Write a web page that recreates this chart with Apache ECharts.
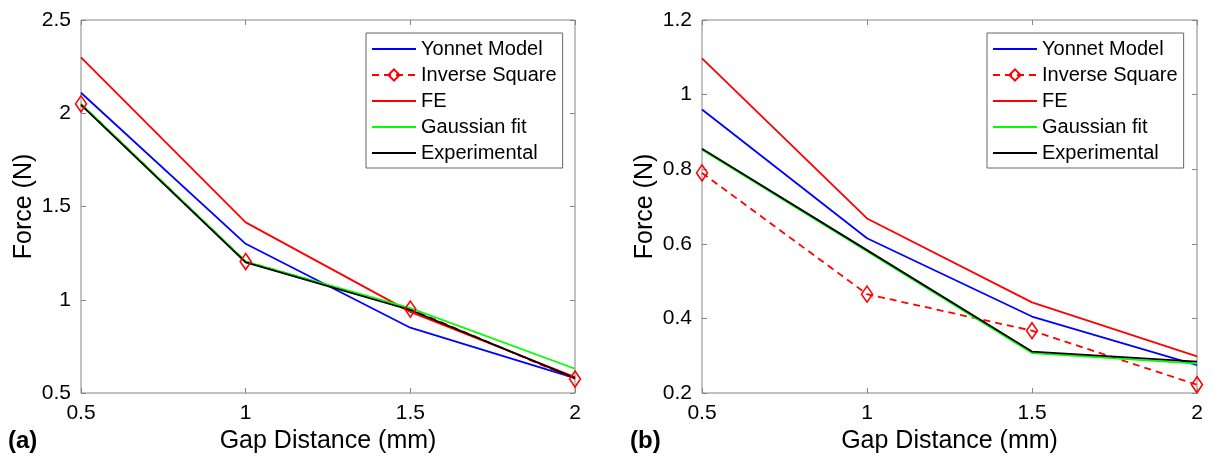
<!DOCTYPE html>
<html>
<head>
<meta charset="utf-8">
<script src="https://cdn.jsdelivr.net/npm/echarts@6/dist/echarts.min.js"></script>
<style>
	html, body { margin: 0; padding: 0; background: #fff; }
	#chart { width: 1214px; height: 465px; }
</style>
</head>
<body>
<div id="chart"></div>
<script>
	// gap distance (mm)
	var gap = [0.5, 1, 1.5, 2];
	var seriesNames = ['Yonnet Model', 'Inverse Square', 'FE', 'Gaussian fit', 'Experimental'];

	// (a)
	var yonnetA = [2.11, 1.30, 0.85, 0.58];
	var inverseA = [2.05, 1.205, 0.95, 0.575];
	var feA = [2.30, 1.415, 0.935, 0.585];
	var gaussA = [2.05, 1.205, 0.955, 0.63];
	var expA = [2.045, 1.20, 0.945, 0.58];

	// (b)
	var yonnetB = [0.96, 0.615, 0.405, 0.275];
	var inverseB = [0.79, 0.465, 0.367, 0.222];
	var feB = [1.097, 0.668, 0.443, 0.298];
	var gaussB = [0.852, 0.58, 0.307, 0.279];
	var expB = [0.855, 0.583, 0.311, 0.284];

	var colors = ['#0000ff', '#ff0000', '#ff0000', '#00ff00', '#000000'];
	var font = 'Liberation Sans';
	var frame = '#858585';

	function pairs(ys) {
		return gap.map(function (x, i) { return [x, ys[i]]; });
	}

	function makeSeries(axis, sets) {
		return sets.map(function (ys, k) {
			var s = {
				name: seriesNames[k],
				type: 'line',
				xAxisIndex: axis,
				yAxisIndex: axis,
				data: pairs(ys),
				symbol: 'none',
				silent: true,
				lineStyle: { color: colors[k], width: 1.8 },
				itemStyle: { color: colors[k] }
			};
			if (k === 1) {
				// hollow diamond, dashed line
				s.symbol = 'diamond';
				s.symbolSize = [11, 16];
				s.lineStyle.type = [7, 5];
				s.itemStyle = { color: 'none', borderColor: '#ff0000', borderWidth: 1.6 };
			}
			return s;
		});
	}

	function xAxes(grid) {
		return [{
			type: 'value', gridIndex: grid, min: 0.5, max: 2, interval: 0.5,
			name: 'Gap Distance (mm)', nameLocation: 'middle', nameGap: 36,
			nameTextStyle: { fontFamily: font, fontSize: 25, color: '#000' },
			axisLine: { show: false },
			axisTick: { inside: true, length: 5, lineStyle: { color: frame } },
			axisLabel: { fontFamily: font, fontSize: 21, color: '#000', margin: 10 },
			splitLine: { show: false }
		}, {
			type: 'value', gridIndex: grid, position: 'top', min: 0.5, max: 2, interval: 0.5,
			axisLine: { show: false },
			axisTick: { inside: true, length: 5, lineStyle: { color: frame } },
			axisLabel: { show: false },
			splitLine: { show: false }
		}];
	}

	function yAxes(grid, min, max, step) {
		return [{
			type: 'value', gridIndex: grid, min: min, max: max, interval: step,
			name: 'Force (N)', nameLocation: 'middle', nameGap: 44,
			nameTextStyle: { fontFamily: font, fontSize: 25, color: '#000' },
			axisLine: { show: false },
			axisTick: { show: true, inside: true, length: 5, lineStyle: { color: frame } },
			axisLabel: { fontFamily: font, fontSize: 21, color: '#000', margin: 10 },
			splitLine: { show: false }
		}, {
			type: 'value', gridIndex: grid, position: 'right', min: min, max: max, interval: step,
			axisLine: { show: false },
			axisTick: { show: true, inside: true, length: 5, lineStyle: { color: frame } },
			axisLabel: { show: false },
			splitLine: { show: false }
		}];
	}

	// legend entries: plain lines get no marker
	var legendItems = seriesNames.map(function (n, k) {
		if (k === 1) return { name: n };
		return { name: n, itemStyle: { opacity: 0, color: 'rgba(0,0,0,0)', borderWidth: 0 } };
	});

	function legendAt(left) {
		return {
			orient: 'vertical',
			left: left, top: 33,
			data: legendItems,
			itemWidth: 44, itemHeight: 14, itemGap: 6,
			padding: [6, 6, 5, 5],
			backgroundColor: '#fff',
			borderColor: '#666', borderWidth: 1,
			textStyle: { fontFamily: font, fontSize: 20, color: '#000' },
			selectedMode: false
		};
	}

	var chart = echarts.init(document.getElementById('chart'));

	var seriesA = makeSeries(0, [yonnetA, inverseA, feA, gaussA, expA]);
	var seriesB = makeSeries(2, [yonnetB, inverseB, feB, gaussB, expB]);

	chart.setOption({
		animation: false,
		backgroundColor: '#fff',
		grid: [
			{ left: 81, top: 20, width: 494, height: 373, show: true, borderColor: frame, borderWidth: 1, backgroundColor: '#fff' },
			{ left: 702, top: 20, width: 495, height: 373, show: true, borderColor: frame, borderWidth: 1, backgroundColor: '#fff' }
		],
		xAxis: xAxes(0).concat(xAxes(1)),
		yAxis: yAxes(0, 0.5, 2.5, 0.5).concat(yAxes(1, 0.2, 1.2, 0.2)),
		legend: [legendAt(366), legendAt(987)],
		graphic: [
			{ type: 'text', left: 8, top: 429, style: { text: '(a)', fontFamily: font, fontSize: 24, fontWeight: 'bold', fill: '#000' } },
			{ type: 'text', left: 630, top: 429, style: { text: '(b)', fontFamily: font, fontSize: 24, fontWeight: 'bold', fill: '#000' } }
		],
		series: seriesA.concat(seriesB)
	});
</script>
</body>
</html>
